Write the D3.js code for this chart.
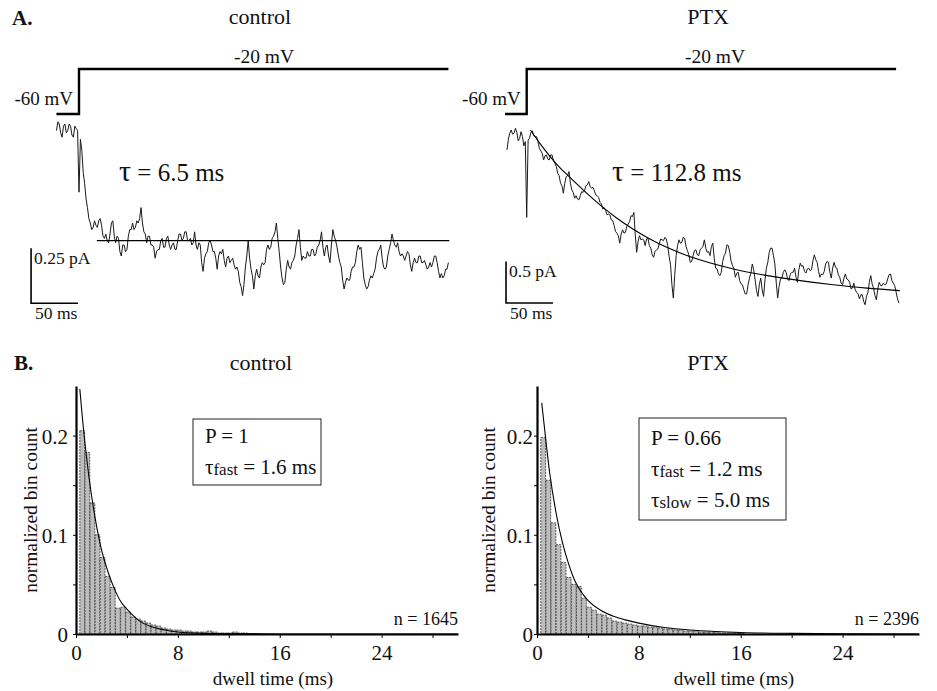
<!DOCTYPE html>
<html>
<head>
<meta charset="utf-8">
<script src="https://cdn.jsdelivr.net/npm/d3@7"></script>
<style>
body { margin: 0; background: #fff; }
svg text { font-family: "Liberation Serif", "Times New Roman", serif; fill: #111; }
</style>
</head>
<body>
<svg id="fig" width="937" height="691"></svg>
<script>
// ---- panel A data: single-channel ensemble currents (pA), one sample every 1.5 ms
var SAMPLE_MS = 1.5;
var ctlStart = -24;   // ms, first sample relative to the voltage step
var ctlTrace = [0.02,0.06,0.05,0.01,-0.01,0.04,0.05,0.01,0.02,0.05,0.04,0.00,-0.01,0.04,0.03,0.02,
  -0.26,-0.02,-0.07,-0.17,-0.22,-0.29,-0.33,-0.38,
  -0.40,-0.43,-0.42,-0.39,-0.41,-0.42,-0.39,-0.38,-0.41,-0.46,-0.47,-0.45,-0.48,-0.49,-0.45,-0.40,
  -0.39,-0.46,-0.49,-0.46,-0.47,-0.53,-0.55,-0.50,-0.50,-0.53,-0.52,-0.46,-0.43,-0.43,-0.40,-0.43,
  -0.42,-0.39,-0.40,-0.38,-0.33,-0.40,-0.44,-0.45,-0.49,-0.46,-0.46,-0.50,-0.50,-0.51,-0.56,-0.53,
  -0.52,-0.52,-0.48,-0.47,-0.51,-0.51,-0.47,-0.46,-0.50,-0.52,-0.50,-0.49,-0.52,-0.52,-0.48,-0.45,
  -0.45,-0.48,-0.47,-0.44,-0.44,-0.48,-0.48,-0.47,-0.50,-0.49,-0.44,-0.50,-0.52,-0.49,-0.50,-0.58,
  -0.62,-0.56,-0.54,-0.53,-0.49,-0.48,-0.50,-0.53,-0.53,-0.56,-0.61,-0.55,-0.53,-0.54,-0.52,-0.57,
  -0.60,-0.56,-0.55,-0.58,-0.57,-0.56,-0.59,-0.61,-0.60,-0.62,-0.67,-0.69,-0.73,-0.68,-0.60,-0.55,
  -0.48,-0.56,-0.61,-0.64,-0.70,-0.64,-0.61,-0.64,-0.65,-0.60,-0.58,-0.59,-0.58,-0.52,-0.50,-0.52,
  -0.51,-0.47,-0.46,-0.44,-0.40,-0.47,-0.53,-0.60,-0.65,-0.68,-0.67,-0.61,-0.57,-0.60,-0.61,-0.58,
  -0.57,-0.55,-0.50,-0.47,-0.43,-0.51,-0.57,-0.55,-0.56,-0.56,-0.53,-0.55,-0.55,-0.52,-0.52,-0.55,
  -0.54,-0.51,-0.50,-0.48,-0.44,-0.51,-0.55,-0.51,-0.50,-0.55,-0.58,-0.50,-0.43,-0.46,-0.48,-0.51,
  -0.55,-0.58,-0.60,-0.66,-0.70,-0.67,-0.65,-0.66,-0.66,-0.62,-0.60,-0.60,-0.58,-0.53,-0.50,-0.52,
  -0.51,-0.58,-0.65,-0.68,-0.70,-0.69,-0.66,-0.64,-0.65,-0.63,-0.61,-0.56,-0.53,-0.52,-0.50,-0.56,
  -0.60,-0.61,-0.60,-0.55,-0.52,-0.49,-0.45,-0.48,-0.50,-0.51,-0.49,-0.53,-0.55,-0.54,-0.55,-0.57,
  -0.55,-0.53,-0.54,-0.59,-0.62,-0.58,-0.56,-0.58,-0.58,-0.55,-0.55,-0.58,-0.58,-0.57,-0.59,-0.61,
  -0.60,-0.58,-0.60,-0.58,-0.55,-0.55,-0.58,-0.62,-0.65,-0.63,-0.65,-0.64,-0.61,-0.61,-0.58];
var ptxStart = -21;
var ptxTrace = [-0.18,-0.05,0.02,0.06,0.01,0.02,0.08,0.03,-0.07,-0.04,0.04,-0.02,-0.13,-0.08,
  -0.99,-0.06,-0.04,0.03,0.05,-0.01,-0.02,-0.02,-0.08,-0.16,-0.19,-0.22,-0.30,-0.25,-0.24,-0.29,
  -0.30,-0.24,-0.24,-0.31,-0.34,-0.38,-0.46,-0.49,-0.58,-0.61,-0.70,-0.58,-0.50,-0.49,-0.44,-0.58,
  -0.66,-0.69,-0.76,-0.73,-0.77,-0.78,-0.73,-0.68,-0.69,-0.67,-0.61,-0.60,-0.56,-0.62,-0.64,-0.63,
  -0.67,-0.72,-0.73,-0.75,-0.81,-0.83,-0.89,-0.88,-0.91,-0.96,-0.95,-0.96,-1.02,-1.03,-1.09,-1.16,
  -1.18,-1.21,-1.30,-1.19,-1.14,-1.18,-1.17,-1.10,-1.07,-1.04,-0.97,-0.98,-0.93,-1.20,-1.41,-1.28,
  -1.21,-1.26,-1.25,-1.26,-1.33,-1.25,-1.24,-1.33,-1.36,-1.44,-1.47,-1.40,-1.38,-1.37,-1.31,-1.25,
  -1.26,-1.27,-1.23,-1.25,-1.33,-1.46,-1.56,-1.80,-1.96,-1.68,-1.45,-1.33,-1.26,-1.30,-1.29,-1.23,
  -1.24,-1.34,-1.39,-1.44,-1.53,-1.52,-1.45,-1.39,-1.38,-1.44,-1.45,-1.38,-1.36,-1.34,-1.26,-1.36,
  -1.41,-1.40,-1.45,-1.34,-1.30,-1.48,-1.60,-1.61,-1.67,-1.69,-1.65,-1.52,-1.45,-1.42,-1.32,-1.33,
  -1.41,-1.52,-1.57,-1.61,-1.71,-1.66,-1.65,-1.75,-1.79,-1.80,-1.86,-1.91,-1.91,-1.80,-1.72,-1.66,
  -1.55,-1.62,-1.74,-1.87,-1.94,-1.80,-1.72,-1.86,-1.94,-1.74,-1.60,-1.53,-1.41,-1.36,-1.36,-1.45,
  -1.55,-1.78,-1.96,-1.82,-1.73,-1.72,-1.65,-1.62,-1.65,-1.73,-1.75,-1.67,-1.65,-1.65,-1.60,-1.71,
  -1.77,-1.62,-1.54,-1.58,-1.57,-1.64,-1.66,-1.61,-1.60,-1.63,-1.62,-1.51,-1.44,-1.50,-1.53,-1.64,
  -1.71,-1.67,-1.68,-1.64,-1.55,-1.52,-1.53,-1.65,-1.72,-1.60,-1.53,-1.59,-1.60,-1.68,-1.71,-1.78,
  -1.80,-1.72,-1.67,-1.73,-1.74,-1.77,-1.85,-1.84,-1.78,-1.86,-1.89,-1.91,-1.97,-1.92,-1.92,-2.00,
  -2.04,-1.94,-1.89,-1.77,-1.69,-1.79,-1.84,-1.93,-1.98,-1.85,-1.77,-1.81,-1.81,-1.78,-1.80,-1.79,
  -1.73,-1.68,-1.67,-1.75,-1.78,-1.81,-1.89,-1.97,-2.02];

// exponential fits to the currents
var ctlFitT = [19, 394];
var ctlFitI = [-0.48, -0.48];
var ptxFitT = [4, 14, 25, 35, 46, 60, 78, 96, 113, 131, 149, 166, 184, 220, 256, 291, 326, 362, 397];
var ptxFitI = [0.06, -0.10, -0.26, -0.39, -0.51, -0.66, -0.84, -1.00, -1.13, -1.25, -1.35, -1.43, -1.50, -1.61, -1.69, -1.75, -1.80, -1.84, -1.87];

// voltage protocol
var ctlStepT = [-24, 0, 0, 393];
var ptxStepT = [-23, 0, 0, 393];
var stepMV = [-60, -60, -20, -20];

// ---- panel B data: dwell-time histograms, 0.4 ms bins starting at 0.3 ms
var BIN_MS = 0.4, BIN_START = 0.3;
var ctlBins = [0.205,0.183,0.132,0.100,0.077,0.058,0.047,0.026,0.027,0.022,
  0.017,0.015,0.013,0.011,0.009,0.008,0.006,0.005,0.004,0.004,
  0.003,0.003,0.002,0.002,0.002,0.003,0.002,0.001,0.001,0.001,
  0.002,0.001,0.001,0.0005,0.0005];
var ptxBins = [0.198,0.155,0.112,0.090,0.072,0.057,0.050,0.048,0.036,0.027,
  0.024,0.020,0.019,0.016,0.013,0.012,0.011,0.010,0.009,0.008,
  0.008,0.007,0.007,0.006,0.005,0.005,0.004,0.004,0.003,0.003,
  0.003,0.002,0.002,0.002,0.002,0.001,0.001,0.001,0.001,0.0005];
var ctlCurveT = [0.3, 0.5, 0.75, 1, 1.5, 2, 2.5, 3, 3.5, 4, 5, 6, 7, 8, 10, 12, 16, 30];
var ctlCurveV = [0.247, 0.218, 0.187, 0.160, 0.117, 0.085, 0.063, 0.046, 0.033, 0.025, 0.013, 0.007, 0.004, 0.002, 0.0006, 0.0002, 0, 0];
var ptxCurveT = [0.37, 0.5, 1, 1.5, 2, 2.5, 3, 3.5, 4, 5, 6, 7, 8, 10, 12, 14, 16, 20, 25, 30];
var ptxCurveV = [0.233, 0.218, 0.162, 0.122, 0.092, 0.070, 0.053, 0.042, 0.034, 0.024, 0.018, 0.014, 0.011, 0.0065, 0.004, 0.0025, 0.0015, 0.0006, 0.0002, 0];

var xTicks = [0, 4, 8, 12, 16, 20, 24, 28];
var xLabelled = [0, 8, 16, 24];
var yTicks = [0, 0.05, 0.1, 0.15, 0.2];
var yLabelled = [0, 0.1, 0.2];

var svg = d3.select("#fig");

function txt(x, y, s, size, anchor) {
  return svg.append("text").attr("x", x).attr("y", y).attr("font-size", size)
    .attr("text-anchor", anchor || "middle").text(s);
}

// panel letters
txt(12, 25, "A.", 21, "start").attr("font-weight", "bold");
txt(14, 370, "B.", 21, "start").attr("font-weight", "bold");

function tracePanel(p) {
  var x = d3.scaleLinear().domain([0, 50]).range([p.stepX, p.stepX + 47]);
  var y = d3.scaleLinear().domain([0, -p.barPA]).range([135, 135 + p.barPx]);
  var v = d3.scaleLinear().domain([-60, -20]).range([114, 69]);
  var g = svg.append("g");
  var line = d3.line().x(function (d) { return x(d[0]); }).y(function (d) { return y(d[1]); });

  g.append("path").datum(d3.zip(p.stepT, stepMV))
    .attr("d", d3.line().x(function (d) { return x(d[0]); }).y(function (d) { return v(d[1]); }))
    .attr("fill", "none").attr("stroke", "#000").attr("stroke-width", 2.4);

  var pts = p.trace.map(function (c, i) { return [p.start + i * SAMPLE_MS, c]; });
  g.append("path").datum(pts).attr("d", line)
    .attr("fill", "none").attr("stroke", "#1a1a1a").attr("stroke-width", 1);

  g.append("path").datum(d3.zip(p.fitT, p.fitI)).attr("d", line.curve(d3.curveMonotoneX))
    .attr("fill", "none").attr("stroke", "#000").attr("stroke-width", 1.1);

  // scale bars
  var bx = x(p.barT), by = y(p.barI);
  g.append("path")
    .attr("d", "M" + bx + "," + y(p.barI + p.barPA) + "V" + by + "H" + x(p.barT + 50))
    .attr("fill", "none").attr("stroke", "#000").attr("stroke-width", 1.6);
  txt(bx + 3, y(p.barI + p.barPA) + 16, p.barLabel, 17.5, "start");
  txt(bx + 4, by + 16, "50 ms", 17.5, "start");

  txt(p.stepX - 6, 105, "-60 mV", 19, "end");
  txt(p.mvX, 63, "-20 mV", 19.5);
  txt(p.titleX, 24, p.title, 22);
  var tau = txt(p.tauX, 181, "", 25, "start");
  tau.append("tspan").attr("font-size", 30).text("\u03c4");
  tau.append("tspan").text(" = " + p.tauText);
}

tracePanel({ stepX: 79, stepT: ctlStepT, trace: ctlTrace, start: ctlStart,
  fitT: ctlFitT, fitI: ctlFitI, barPA: 0.25, barPx: 55, barT: -51, barI: -0.765,
  barLabel: "0.25 pA", mvX: 264, titleX: 260, title: "control", tauX: 119, tauText: "6.5 ms" });
tracePanel({ stepX: 526.7, stepT: ptxStepT, trace: ptxTrace, start: ptxStart,
  fitT: ptxFitT, fitI: ptxFitI, barPA: 0.5, barPx: 41.6, barT: -22, barI: -2.02,
  barLabel: "0.5 pA", mvX: 715, titleX: 708, title: "PTX", tauX: 612, tauText: "112.8 ms" });

function histPanel(p) {
  var x = d3.scaleLinear().domain([0, 30]).range([p.left, p.left + 382]);
  var y = d3.scaleLinear().domain([0, 0.25]).range([634, 386]);
  var g = svg.append("g");

  g.selectAll("rect").data(p.bins).enter().append("rect")
    .attr("x", function (d, i) { return x(BIN_START + i * BIN_MS); })
    .attr("width", x(BIN_MS) - x(0) - 0.3)
    .attr("y", function (d) { return y(d); })
    .attr("height", function (d) { return y(0) - y(d); })
    .attr("fill", "#bdbdbd").attr("stroke", "#333").attr("stroke-width", 0.8)
    .attr("stroke-dasharray", "2,1");

  g.append("path").datum(d3.zip(p.curveT, p.curveV))
    .attr("d", d3.line().curve(d3.curveMonotoneX)
      .x(function (d) { return x(d[0]); }).y(function (d) { return y(d[1]); }))
    .attr("fill", "none").attr("stroke", "#000").attr("stroke-width", 1.1);

  var xa = g.append("g").attr("transform", "translate(0,634)")
    .call(d3.axisBottom(x).tickValues(xTicks).tickSize(4).tickSizeOuter(0).tickPadding(7)
      .tickFormat(function (d) { return xLabelled.indexOf(d) >= 0 ? d : ""; }));
  var ya = g.append("g").attr("transform", "translate(" + p.left + ",0)")
    .call(d3.axisLeft(y).tickValues(yTicks).tickSize(3).tickSizeOuter(0).tickPadding(p.yPad)
      .tickFormat(function (d) { return yLabelled.indexOf(d) >= 0 ? d : ""; }));
  [xa, ya].forEach(function (a) {
    a.select(".domain").attr("stroke", "#000").attr("stroke-width", 2.2);
    a.selectAll(".tick line").attr("stroke", "#000");
    a.selectAll(".tick text").attr("font-size", 21).attr("font-family", "Liberation Serif").attr("fill", "#111");
  });
  ya.selectAll(".tick text").attr("dy", "0.38em");

  txt(p.titleX, 370, p.title, 22);
  txt(p.left + 197, 685, "dwell time (ms)", 19);
  txt(p.yLabelX, 510, "normalized bin count", 19.5)
    .attr("transform", "rotate(-90," + p.yLabelX + ",510)").attr("dy", "0.35em");
  txt(p.left + 382, 625, p.n, 18, "end");

  g.append("rect").attr("x", p.box[0]).attr("y", p.box[1]).attr("width", p.box[2]).attr("height", p.box[3])
    .attr("fill", "none").attr("stroke", "#222").attr("stroke-width", 1);
  p.lines.forEach(function (l, i) {
    var t = txt(p.box[0] + 12, p.box[1] + p.firstY + i * 31, "", 21, "start");
    if (l.sub) {
      t.append("tspan").text("\u03c4");
      t.append("tspan").attr("font-size", 17).attr("dy", 1).text(l.sub);
      t.append("tspan").attr("dy", -1).text(" = " + l.val);
    } else {
      t.text(l.val);
    }
  });
}

histPanel({ left: 76, bins: ctlBins, curveT: ctlCurveT, curveV: ctlCurveV, yPad: 5,
  titleX: 261, title: "control", yLabelX: 30, n: "n = 1645", firstY: 24,
  box: [193, 419, 128, 66], lines: [{ val: "P = 1" }, { sub: "fast", val: "1.6 ms" }] });
histPanel({ left: 537, bins: ptxBins, curveT: ptxCurveT, curveV: ptxCurveV, yPad: 1,
  titleX: 708, title: "PTX", yLabelX: 488, n: "n = 2396", firstY: 27,
  box: [639, 418, 147, 102], lines: [{ val: "P = 0.66" }, { sub: "fast", val: "1.2 ms" }, { sub: "slow", val: "5.0 ms" }] });
</script>
</body>
</html>
